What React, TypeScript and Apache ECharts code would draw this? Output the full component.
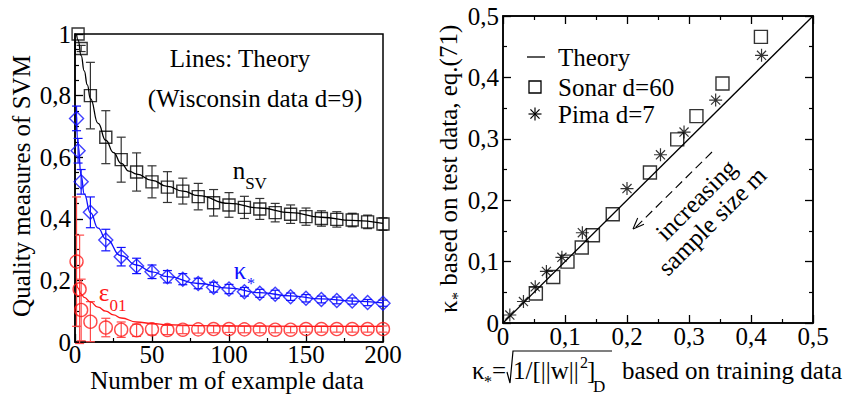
import React, { useEffect, useRef } from 'react';
import * as echarts from 'echarts';

// ---------- Left panel data (Wisconsin, d=9) ----------
const nsvX = [2, 4, 10, 20, 30, 40, 50, 60, 70, 80, 90, 100, 110, 120, 130, 140, 150, 160, 170, 180, 190, 200];
const nsvY = [1.0, 0.953, 0.8, 0.665, 0.592, 0.552, 0.52, 0.503, 0.49, 0.472, 0.452, 0.445, 0.437, 0.432, 0.42, 0.415, 0.407, 0.401, 0.398, 0.396, 0.39, 0.383];
const nsvErr = [0.0, 0.01, 0.108, 0.086, 0.073, 0.062, 0.052, 0.05, 0.042, 0.043, 0.043, 0.04, 0.036, 0.034, 0.03, 0.03, 0.028, 0.025, 0.025, 0.022, 0.022, 0.02];

const kapX = [1, 2, 4, 10, 20, 30, 40, 50, 60, 70, 80, 90, 100, 110, 120, 130, 140, 150, 160, 170, 180, 190, 200];
const kapY = [0.726, 0.621, 0.52, 0.421, 0.331, 0.277, 0.247, 0.228, 0.212, 0.204, 0.19, 0.178, 0.172, 0.163, 0.158, 0.155, 0.147, 0.142, 0.138, 0.135, 0.133, 0.128, 0.126];
const kapErr = [0.04, 0.04, 0.04, 0.05, 0.035, 0.03, 0.025, 0.022, 0.02, 0.018, 0.017, 0.016, 0.015, 0.014, 0.013, 0.013, 0.012, 0.012, 0.011, 0.011, 0.01, 0.01, 0.01];

const epsX = [1, 3, 4, 10, 20, 30, 40, 50, 60, 70, 80, 90, 100, 110, 120, 130, 140, 150, 160, 170, 180, 190, 200];
const epsY = [0.261, 0.171, 0.104, 0.066, 0.047, 0.04, 0.038, 0.041, 0.039, 0.04, 0.041, 0.042, 0.042, 0.041, 0.041, 0.04, 0.04, 0.042, 0.042, 0.042, 0.042, 0.042, 0.042];
const epsErr = [0.21, 0.176, 0.1, 0.065, 0.03, 0.025, 0.02, 0.018, 0.015, 0.013, 0.012, 0.012, 0.011, 0.011, 0.011, 0.01, 0.01, 0.01, 0.01, 0.01, 0.01, 0.01, 0.01];

// theory curves
const thNsvX = [1, 2, 4, 6, 8, 10, 15, 20, 25, 30, 35, 40, 50, 60, 70, 80, 100, 120, 140, 160, 180, 200];
const thNsvY = [1.0, 0.98, 0.93, 0.88, 0.835, 0.79, 0.71, 0.655, 0.615, 0.58, 0.555, 0.545, 0.525, 0.505, 0.49, 0.475, 0.45, 0.435, 0.42, 0.405, 0.395, 0.385];
const thKapX = [1, 2, 4, 6, 10, 15, 20, 30, 40, 50, 60, 80, 100, 120, 140, 160, 180, 200];
const thKapY = [0.73, 0.64, 0.54, 0.48, 0.42, 0.37, 0.335, 0.28, 0.25, 0.228, 0.212, 0.19, 0.175, 0.16, 0.15, 0.14, 0.133, 0.127];
const thEpsX = [1, 2, 4, 6, 10, 15, 20, 25, 30, 40, 50, 60, 80, 100, 150, 200];
const thEpsY = [0.19, 0.175, 0.155, 0.145, 0.13, 0.113, 0.1, 0.088, 0.078, 0.065, 0.06, 0.056, 0.053, 0.052, 0.051, 0.051];

// ---------- Right panel data ----------
const sonarX = [0.053, 0.081, 0.104, 0.127, 0.145, 0.177, 0.237, 0.281, 0.312, 0.354, 0.416];
const sonarY = [0.048, 0.075, 0.1, 0.123, 0.143, 0.177, 0.245, 0.299, 0.337, 0.39, 0.466];
const pimaX = [0.011, 0.033, 0.052, 0.07, 0.095, 0.128, 0.2, 0.254, 0.292, 0.343, 0.417];
const pimaY = [0.013, 0.035, 0.059, 0.084, 0.107, 0.147, 0.219, 0.274, 0.311, 0.363, 0.436];
const theoryDiagX = [0, 0.5];
const theoryDiagY = [0, 0.5];

const FONT = 'Liberation Serif';
const BLUE = '#1010ff';
const RED = '#ff1a1a';

const zip2 = (a: number[], b: number[]) => a.map((v, i) => [v, b[i]]);
const zip3 = (a: number[], b: number[], c: number[]) => a.map((v, i) => [v, b[i], c[i]]);

const fmt = (v: number) => {
  if (Math.abs(v) < 1e-9) return '0';
  if (Math.abs(v - Math.round(v)) < 1e-9) return String(Math.round(v));
  return (Math.round(v * 10) / 10).toFixed(1).replace('.', ',');
};

const label = (margin: number, lh?: number) => ({ color: '#000', fontFamily: FONT, fontSize: 25, margin, lineHeight: lh, formatter: fmt });

const axis = (extra: any) => ({
  type: 'value',
  axisLine: { show: true, onZero: false, lineStyle: { color: '#000', width: 1.5 } },
  axisTick: { show: true, inside: true, length: 8, lineStyle: { color: '#000', width: 1.3 } },
  minorTick: { show: true, splitNumber: 2, length: 4, lineStyle: { color: '#000', width: 1.2 } },
  splitLine: { show: false },
  minorSplitLine: { show: false },
  ...extra,
});

const errBars = (color: string, xIdx: number, yIdx: number, data: number[][]) => ({
  type: 'custom',
  xAxisIndex: xIdx,
  yAxisIndex: yIdx,
  data,
  encode: { x: 0, y: 1 },
  silent: true,
  renderItem: (params: any, api: any) => {
    const x = api.value(0);
    const y = api.value(1);
    const e = api.value(2);
    if (!e) return { type: 'group', children: [] };
    const t = api.coord([x, y + e]);
    const b = api.coord([x, y - e]);
    const w = 4.5;
    const style = { stroke: color, lineWidth: 1.2 };
    return {
      type: 'group',
      children: [
        { type: 'line', shape: { x1: t[0], y1: t[1], x2: b[0], y2: b[1] }, style },
        { type: 'line', shape: { x1: t[0] - w, y1: t[1], x2: t[0] + w, y2: t[1] }, style },
        { type: 'line', shape: { x1: b[0] - w, y1: b[1], x2: b[0] + w, y2: b[1] }, style },
      ],
    };
  },
});

const txt = (text: string, x: number, y: number, o: any = {}) => ({
  type: 'text',
  x,
  y,
  rotation: o.rotation || 0,
  silent: true,
  style: {
    text,
    fontFamily: FONT,
    fontSize: o.size || 25,
    lineHeight: o.lh,
    fill: o.color || '#000',
    align: o.align || 'center',
    verticalAlign: 'middle',
  },
});

const line = (x1: number, y1: number, x2: number, y2: number, o: any = {}) => ({
  type: 'line',
  silent: true,
  shape: { x1, y1, x2, y2 },
  style: { stroke: '#000', lineWidth: o.width || 1.3, lineDash: o.dash || null },
});

const starPath = 'path://M10,0 L10,20 M0,10 L20,10 M3,3 L17,17 M3,17 L17,3';

const starAt = (cx: number, cy: number, r: number) => ({
  type: 'group',
  silent: true,
  children: [
    line(cx, cy - r, cx, cy + r, { width: 1.2 }),
    line(cx - r, cy, cx + r, cy, { width: 1.2 }),
    line(cx - r * 0.7, cy - r * 0.7, cx + r * 0.7, cy + r * 0.7, { width: 1.2 }),
    line(cx - r * 0.7, cy + r * 0.7, cx + r * 0.7, cy - r * 0.7, { width: 1.2 }),
  ],
});

const option: any = {
  animation: false,
  backgroundColor: '#fff',
  textStyle: { fontFamily: FONT },
  grid: [
    { left: 75, top: 34, width: 308, height: 308, show: true, borderColor: '#000', borderWidth: 1.5, backgroundColor: 'transparent' },
    { left: 503, top: 16, width: 310, height: 307, show: true, borderColor: '#000', borderWidth: 1.5, backgroundColor: 'transparent' },
  ],
  xAxis: [
    axis({ gridIndex: 0, min: 0, max: 200, interval: 50, axisLabel: label(2, 20) }),
    axis({ gridIndex: 1, min: 0, max: 0.5, interval: 0.1, axisLabel: label(3, 20) }),
    axis({ gridIndex: 1, min: 0, max: 0.5, interval: 0.1, position: 'top', axisLabel: { show: false } }),
  ],
  yAxis: [
    axis({ gridIndex: 0, min: 0, max: 1, interval: 0.2, axisLabel: label(4), minorTick: { show: true, splitNumber: 4, length: 4, lineStyle: { color: '#000', width: 1.2 } } }),
    axis({ gridIndex: 1, min: 0, max: 0.5, interval: 0.1, axisLabel: label(4) }),
    axis({ gridIndex: 1, min: 0, max: 0.5, interval: 0.1, position: 'right', axisLabel: { show: false } }),
  ],
  series: [
    // theory lines (left)
    { type: 'line', xAxisIndex: 0, yAxisIndex: 0, data: zip2(thNsvX, thNsvY), showSymbol: false, smooth: true, smoothMonotone: 'x', lineStyle: { color: '#000', width: 1.3 }, silent: true },
    { type: 'line', xAxisIndex: 0, yAxisIndex: 0, data: zip2(thKapX, thKapY), showSymbol: false, smooth: true, smoothMonotone: 'x', lineStyle: { color: BLUE, width: 1.3 }, silent: true },
    { type: 'line', xAxisIndex: 0, yAxisIndex: 0, data: zip2(thEpsX, thEpsY), showSymbol: false, smooth: true, smoothMonotone: 'x', lineStyle: { color: RED, width: 1.3 }, silent: true },
    // error bars
    errBars('#333', 0, 0, zip3(nsvX, nsvY, nsvErr)),
    errBars(BLUE, 0, 0, zip3(kapX, kapY, kapErr)),
    errBars('#ff4a4a', 0, 0, zip3(epsX, epsY, epsErr)),
    // markers
    { type: 'scatter', xAxisIndex: 0, yAxisIndex: 0, data: zip2(nsvX, nsvY), symbol: 'rect', symbolSize: 12, itemStyle: { color: 'rgba(0,0,0,0)', borderColor: '#000', borderWidth: 1.4 }, silent: true },
    { type: 'scatter', xAxisIndex: 0, yAxisIndex: 0, data: zip2(kapX, kapY), symbol: 'diamond', symbolSize: 14, itemStyle: { color: 'rgba(0,0,0,0)', borderColor: BLUE, borderWidth: 1.4 }, silent: true },
    { type: 'scatter', xAxisIndex: 0, yAxisIndex: 0, data: zip2(epsX, epsY), symbol: 'circle', symbolSize: 13, itemStyle: { color: 'rgba(0,0,0,0)', borderColor: RED, borderWidth: 1.4 }, silent: true },
    // right panel
    { type: 'line', xAxisIndex: 1, yAxisIndex: 1, data: zip2(theoryDiagX, theoryDiagY), showSymbol: false, lineStyle: { color: '#000', width: 1.3 }, silent: true },
    { type: 'scatter', xAxisIndex: 1, yAxisIndex: 1, data: zip2(sonarX, sonarY), symbol: 'rect', symbolSize: 13, itemStyle: { color: 'rgba(0,0,0,0)', borderColor: '#000', borderWidth: 1.4 }, silent: true },
    { type: 'scatter', xAxisIndex: 1, yAxisIndex: 1, data: zip2(pimaX, pimaY), symbol: starPath, symbolSize: 13, itemStyle: { color: 'rgba(0,0,0,0)', borderColor: '#000', borderWidth: 1.2 }, silent: true },
  ],
  graphic: [
    // left panel texts
    txt('Quality measures of SVM', 21, 186, { rotation: Math.PI / 2 }),
    txt('Number m of example data', 227, 380, { lh: 22 }),
    txt('Lines: Theory', 240, 58),
    txt('(Wisconsin data d=9)', 255, 98),
    txt('n', 239, 170),
    txt('SV', 256, 183, { size: 17 }),
    txt('κ', 240, 270, { color: BLUE }),
    txt('*', 251, 283, { color: BLUE, size: 16 }),
    txt('ε', 104, 292, { color: RED }),
    txt('01', 118, 305, { color: RED, size: 17 }),
    // right panel y title
    txt('κ', 448, 313, { rotation: Math.PI / 2, align: 'left' }),
    txt('*', 457, 300, { rotation: Math.PI / 2, align: 'left', size: 16 }),
    txt(' based on test data, eq.(71)', 448, 292, { rotation: Math.PI / 2, align: 'left' }),
    // right panel x title
    txt('κ', 472, 370, { align: 'left' }),
    txt('*', 484, 381, { align: 'left', size: 16 }),
    txt('=', 492, 370, { align: 'left' }),
    txt('1/[||w||', 513, 370, { align: 'left', lh: 22 }),
    txt('2', 580, 362, { align: 'left', size: 16, lh: 14 }),
    txt(']', 587, 370, { align: 'left' }),
    txt('D', 593, 386, { align: 'left', size: 17, lh: 14 }),
    txt('based on training data', 842, 370, { align: 'right' }),
    {
      type: 'polyline',
      silent: true,
      shape: { points: [[507, 372], [510, 383], [513, 351], [612, 351]] },
      style: { stroke: '#000', lineWidth: 1.2, fill: null },
    },
    // legend
    line(527, 57, 545, 57),
    txt('Theory', 558, 57, { align: 'left' }),
    { type: 'rect', silent: true, shape: { x: 529, y: 81, width: 12, height: 12 }, style: { fill: 'none', stroke: '#000', lineWidth: 1.3 } },
    txt('Sonar d=60', 558, 87, { align: 'left' }),
    starAt(535, 114, 6.5),
    txt('Pima d=7', 558, 114, { align: 'left' }),
    // annotation arrow
    line(712, 152, 634, 229, { dash: [9, 5], width: 1.1 }),
    line(633, 229, 644, 224.3, { width: 1.1 }),
    line(633, 229, 637.7, 218, { width: 1.1 }),
    txt('increasing', 696, 200, { rotation: Math.PI / 4 }),
    txt('sample size m', 712, 221, { rotation: Math.PI / 4 }),
  ],
};

export default function App() {
  const ref = useRef<HTMLDivElement>(null);
  useEffect(() => {
    document.body.style.margin = '0';
    const chart = echarts.init(ref.current as HTMLDivElement, null, { renderer: 'svg' });
    chart.setOption(option);
    return () => chart.dispose();
  }, []);
  return <div ref={ref} style={{ width: 847, height: 396 }} />;
}
